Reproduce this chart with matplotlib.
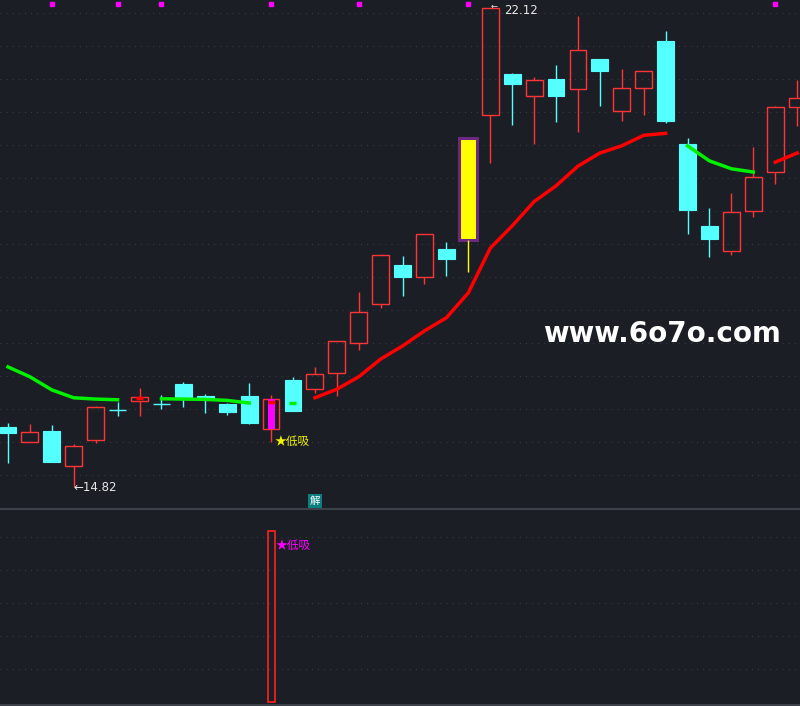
import numpy as np
import matplotlib
matplotlib.use('Agg')
import matplotlib.pyplot as plt
import matplotlib.transforms as mtransforms
from matplotlib.patches import Rectangle

plt.rcParams['font.family'] = ['Noto Sans CJK SC', 'DejaVu Sans']

# daily candles (left -> right)
opens = [15.74, 15.51, 15.67, 15.14, 15.54, 15.99, 16.13, 16.09, 16.39, 16.21, 16.09, 16.21, 15.70,
         16.45, 16.31, 16.56, 17.01, 17.61, 18.20, 18.02, 18.45, 18.58, 20.49, 21.11, 20.78, 21.04,
         20.89, 21.34, 20.55, 20.90, 21.62, 20.05, 18.80, 18.42, 19.03, 19.62, 20.61]
highs = [15.80, 15.78, 15.77, 15.48, 16.05, 16.12, 16.33, 16.22, 16.42, 16.24, 16.10, 16.41, 16.22,
         16.50, 16.65, 17.04, 17.79, 18.36, 18.34, 18.68, 18.55, 20.14, 22.12, 21.13, 21.07, 21.25,
         22.00, 21.34, 21.19, 21.16, 21.77, 20.14, 19.07, 19.30, 20.00, 20.63, 21.02]
lows = [15.19, 15.51, 15.20, 14.82, 15.49, 15.90, 15.90, 16.01, 16.04, 15.95, 15.92, 15.78, 15.51,
        15.98, 16.25, 16.21, 16.91, 17.55, 17.73, 17.91, 18.04, 18.10, 19.76, 20.34, 20.05, 20.38,
        20.23, 20.63, 20.40, 20.49, 20.37, 18.68, 18.33, 18.36, 18.93, 19.44, 20.32]
closes = [15.64, 15.66, 15.20, 15.45, 16.04, 15.99, 16.19, 16.09, 16.16, 16.18, 15.96, 15.80, 16.16,
          15.98, 16.54, 17.04, 17.49, 18.36, 18.02, 18.68, 18.29, 20.14, 22.12, 20.96, 21.02, 20.78,
          21.48, 21.16, 20.90, 21.16, 20.40, 19.04, 18.60, 19.01, 19.54, 20.61, 20.75]
ma_line = [16.65, 16.50, 16.30, 16.18, 16.16, 16.15, 16.17, 16.165, 16.16, 16.155, 16.14, 16.10, 16.12,
           16.10, 16.18, 16.31, 16.50, 16.77, 16.97, 17.20, 17.40, 17.78, 18.46, 18.80, 19.17, 19.41,
           19.71, 19.91, 20.02, 20.18, 20.21, 20.02, 19.79, 19.67, 19.62, 19.77, 19.91]

top_marks = [2, 5, 7, 12, 16, 21, 35]   # magenta dots on top
low_buy_idx = 12                        # ★低吸 day
big_day_idx = 21                        # yellow candle
jie_idx = 14                            # 解 marker
signal_value = 100                      # lower panel bar height
low_buy_text = '★低吸'

BG = '#1c1e26'
RED = '#ff3434'
CYAN = '#54ffff'
GRID = '#3f434c'
SEP = '#3c4049'

fig = plt.figure(figsize=(8, 7.06), dpi=100, facecolor=BG)
ax = fig.add_axes([0, 197 / 706, 1, 509 / 706], facecolor=BG)
ax2 = fig.add_axes([0, 1 / 706, 1, 196 / 706], facecolor=BG)

n = len(opens)
ax.set_xlim(-0.365, 36.13)
ax.set_ylim(14.485, 22.242)
ax2.set_xlim(-0.365, 36.13)
ax2.set_ylim(-1.75, 112.9)

# dotted grid
ax.set_yticks(np.arange(22.044, 14.9, -0.503))
ax2.set_yticks(np.arange(1, 6) * 19.3)
for a in (ax, ax2):
    a.set_axisbelow(True)
    a.set_xticks([])
    a.tick_params(length=0, labelleft=False, labelbottom=False)
    a.grid(axis='y', color=GRID, linestyle=(0, (0.7, 4.8)), linewidth=0.8)
    for s in a.spines.values():
        s.set_visible(False)
ax2.spines['top'].set_visible(True)
ax2.spines['top'].set_color(SEP)
ax2.spines['top'].set_linewidth(1.5)
ax2.spines['bottom'].set_visible(True)
ax2.spines['bottom'].set_color(SEP)
ax2.spines['bottom'].set_linewidth(1.5)

# candles
w = 0.77
for i in range(n):
    o, h, l, c = opens[i], highs[i], lows[i], closes[i]
    if i == big_day_idx:
        ax.vlines(i, l, o, color='#ffff00', lw=1)
        ax.add_patch(Rectangle((i - 0.41, o), 0.82, c - o, facecolor='#ffff00',
                               edgecolor='#6b2a80', lw=2.2))
    elif c > o:
        ax.add_patch(Rectangle((i - w / 2, o), w, c - o, fill=False, edgecolor=RED, lw=1))
        ax.vlines(i, c, h, color=RED, lw=1)
        ax.vlines(i, l, o, color=RED, lw=1)
        if i == low_buy_idx:
            ax.add_patch(Rectangle((i - 0.16, o), 0.32, c - o, facecolor='#ff00ff', edgecolor='none'))
    else:
        ax.vlines(i, l, h, color=CYAN, lw=1)
        if o == c:
            ax.hlines(o, i - w / 2, i + w / 2, color=CYAN, lw=1)
        else:
            ax.add_patch(Rectangle((i - w / 2, c), w, o - c, facecolor=CYAN, edgecolor=CYAN, lw=0.8))

# moving average, red when rising, green when falling
ma = np.array(ma_line)
up = np.r_[ma[1] > ma[0], ma[1:] > ma[:-1]]
start = 0
for k in range(1, n + 1):
    if k == n or up[k] != up[start]:
        col = '#ff0000' if up[start] else '#00f000'
        if k - start == 1:
            ax.plot([start - 0.16, start + 0.16], [ma[start]] * 2, color=col, lw=2.5,
                    solid_capstyle='butt')
        else:
            ax.plot(np.arange(start, k), ma[start:k], color=col, lw=2.5)
        start = k

# top magenta marks
trans = mtransforms.blended_transform_factory(ax.transData, ax.transAxes)
ax.plot(top_marks, [0.993] * len(top_marks), 's', color='#ff00ff', ms=2.3, transform=trans,
        clip_on=False)

# labels for high / low
lo_i = int(np.argmin(lows))
hi_i = int(np.argmax(highs))
ax.annotate('←' + f'{lows[lo_i]:.2f}', xy=(lo_i, lows[lo_i]), xytext=(-0.3, 0),
            textcoords='offset points', ha='left', va='center', color='#e8e8e8', fontsize=8.5,
            family='DejaVu Sans')
ax.annotate('←', xy=(hi_i, highs[hi_i]), xytext=(0.4, 1.3), textcoords='offset points',
            ha='left', va='center', color='#e8e8e8', fontsize=6, family='DejaVu Sans')
ax.annotate(f'{highs[hi_i]:.2f}', xy=(hi_i, highs[hi_i]), xytext=(10, -1.5),
            textcoords='offset points', ha='left', va='center', color='#e8e8e8', fontsize=8.5,
            family='DejaVu Sans')

ax.annotate(low_buy_text, xy=(low_buy_idx, lows[low_buy_idx]), xytext=(2.5, 0),
            textcoords='offset points', ha='left', va='center', color='#f2f200', fontsize=8.5)

ax.text(jie_idx, 0.006, '解', transform=trans, ha='center', va='bottom', fontsize=7.5,
        color='white', bbox=dict(boxstyle='square,pad=0.15', fc='#0b7f7f', ec='none'))

# lower panel signal
ax2.add_patch(Rectangle((low_buy_idx - 0.16, 0), 0.32, signal_value, fill=False,
                        edgecolor='#ff2020', lw=1.2))
ax2.annotate(low_buy_text, xy=(low_buy_idx, signal_value), xytext=(3.5, -10),
             textcoords='offset points', ha='left', va='center', color='#ff00ff', fontsize=8.5)

# watermark
fig.text(543 / 800, 1 - 342 / 706, 'www.6o7o.com', fontsize=20, fontweight='bold',
         color='white', ha='left', va='baseline', family='DejaVu Sans')

fig.savefig('out.png', dpi=100, facecolor=BG)
